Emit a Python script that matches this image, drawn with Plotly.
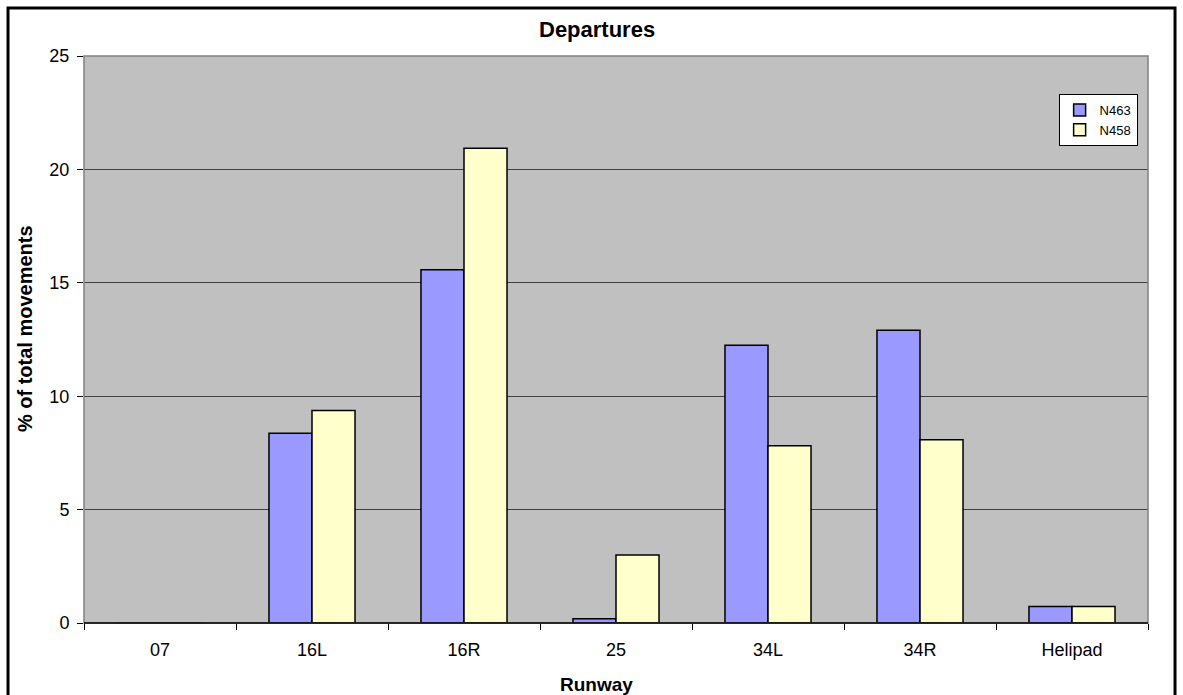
import plotly.graph_objects as go

runways = ["07", "16L", "16R", "25", "34L", "34R", "Helipad"]
n463 = [0, 8.37, 15.57, 0.19, 12.25, 12.91, 0.73]
n458 = [0, 9.37, 20.93, 3.0, 7.81, 8.08, 0.73]

fig = go.Figure()
fig.add_trace(go.Bar(name="N463", x=runways, y=n463, marker=dict(color="#9999FF", line=dict(color="black", width=1.5))))
fig.add_trace(go.Bar(name="N458", x=runways, y=n458, marker=dict(color="#FFFFCC", line=dict(color="black", width=1.5))))

font = "Liberation Sans, Arial, sans-serif"
fig.update_layout(
    width=1183, height=695,
    margin=dict(l=84, r=35, t=56, b=72, autoexpand=False),
    paper_bgcolor="white", plot_bgcolor="#C0C0C0",
    barmode="group", bargap=0.434, bargroupgap=0,
    font=dict(family=font, size=18, color="black"),
    showlegend=True,
    legend=dict(x=0.916, y=0.933, xanchor="left", yanchor="top", bgcolor="white",
                bordercolor="black", borderwidth=1, font=dict(size=13),
                tracegroupgap=0, itemwidth=30),
    annotations=[
        dict(text="<b>Departures</b>", x=0.482, y=1.0459, xref="paper", yref="paper",
             xanchor="center", yanchor="middle", showarrow=False, font=dict(size=22)),
        dict(text="<b>Runway</b>", x=0.482, y=-0.1076, xref="paper", yref="paper",
             xanchor="center", yanchor="middle", showarrow=False, font=dict(size=19)),
        dict(text="<b>% of total movements</b>", x=-0.0555, y=0.52, xref="paper", yref="paper",
             xanchor="center", yanchor="middle", textangle=-90, showarrow=False, font=dict(size=20)),
    ],
    shapes=[
        dict(type="rect", xref="paper", yref="paper", x0=0, x1=1, y0=0, y1=1,
             line=dict(color="#808080", width=1.5), layer="above"),
        dict(type="line", xref="paper", yref="paper", x0=0, x1=1, y0=0, y1=0,
             line=dict(color="black", width=1.5), layer="above"),
        dict(type="rect", xref="paper", yref="paper", x0=-0.0714, x1=1.0254, y0=-0.13, y1=1.0847,
             line=dict(color="black", width=3)),
    ],
)
fig.update_xaxes(tickson="boundaries", ticks="outside", ticklen=6, tickcolor="black",
                 showgrid=False, showline=False, tickfont=dict(size=18), automargin=False,
                 ticklabelstandoff=14)
fig.update_yaxes(range=[0, 25], dtick=5, ticks="outside", ticklen=6, tickcolor="black",
                 showgrid=True, gridcolor="#404040", gridwidth=1, zeroline=False,
                 showline=False, tickfont=dict(size=18), automargin=False,
                 ticklabelstandoff=4)

fig.write_html("out.html", post_script="document.body.style.margin='0px';",
               config={"displayModeBar": False})
